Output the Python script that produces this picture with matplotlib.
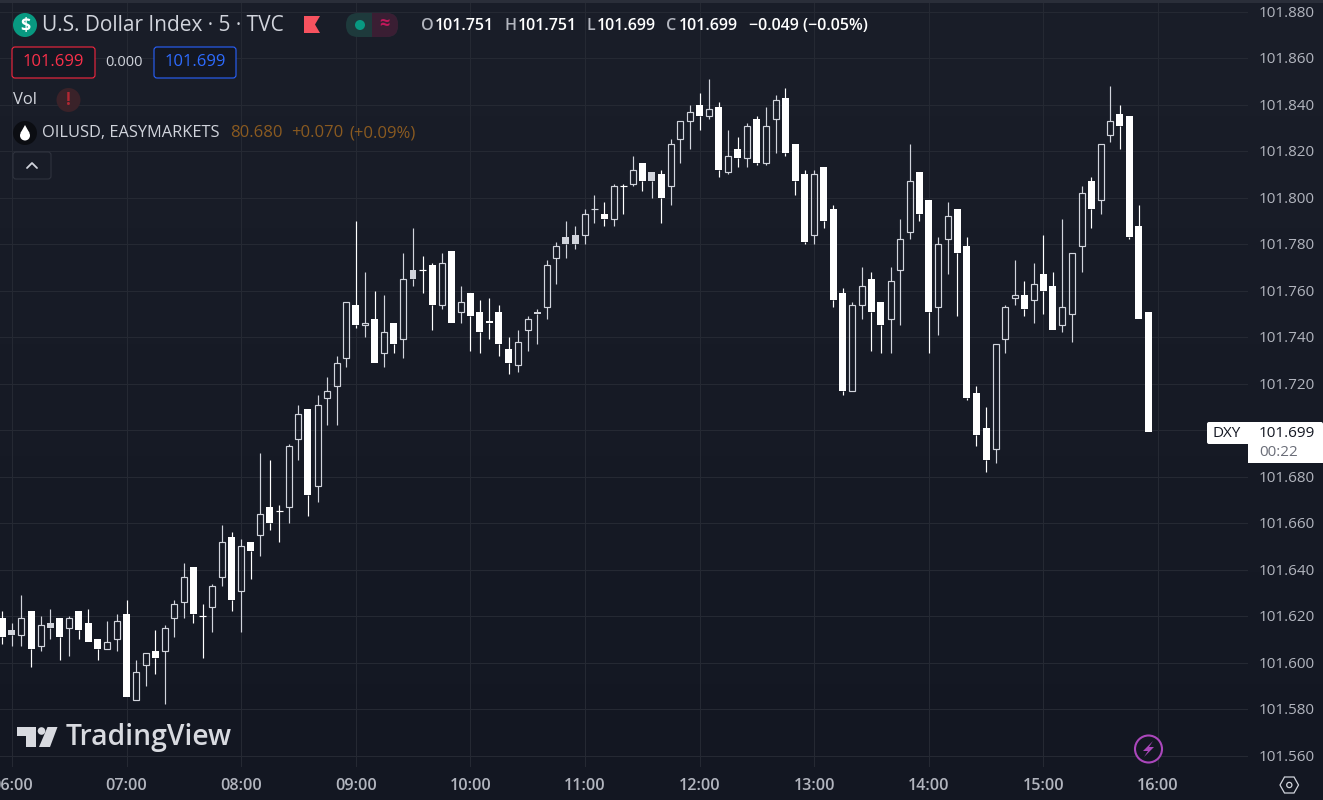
import matplotlib
matplotlib.use("Agg")
import matplotlib.pyplot as plt
import numpy as np
from matplotlib.patches import Circle, FancyBboxPatch, Polygon, Rectangle

# Five-minute candles, first bar 05:55, last bar 15:55
opens = [101.619,101.612,101.612,101.622,101.607,101.615,101.619,101.615,101.622,101.617,101.610,101.606,101.610,
 101.621,101.584,101.599,101.605,101.605,101.619,101.626,101.641,101.620,101.624,101.637,101.654,101.631,101.652,
 101.655,101.667,101.665,101.667,101.696,101.709,101.676,101.714,101.719,101.731,101.754,101.745,101.748,101.733,101.746,101.739,
 101.769,101.769,101.771,101.754,101.777,101.751,101.759,101.751,101.747,101.751,101.735,101.728,101.743,101.750,101.753,101.774,
 101.783,101.780,101.784,101.795,101.793,101.791,101.805,101.806,101.815,101.811,101.810,101.805,101.825,101.833,
 101.840,101.835,101.839,101.811,101.821,101.817,101.834,101.815,101.834,101.843,101.823,101.810,101.784,101.813,101.795,
 101.759,101.717,101.754,101.765,101.755,101.748,101.769,101.785,101.811,101.799,101.753,101.782,101.795,101.779,
 101.716,101.701,101.692,101.739,101.757,101.758,101.756,101.767,101.762,101.745,101.750,101.779,101.807,101.799,101.827,101.836,101.835,101.788,101.751]
highs = [101.622,101.617,101.629,101.622,101.620,101.623,101.619,101.620,101.622,101.623,101.610,101.618,101.621,
 101.627,101.601,101.604,101.614,101.616,101.627,101.643,101.641,101.625,101.634,101.659,101.656,101.653,101.652,
 101.690,101.687,101.668,101.694,101.711,101.709,101.715,101.723,101.732,101.755,101.790,101.768,101.760,101.758,101.746,101.776,
 101.787,101.775,101.772,101.776,101.777,101.762,101.759,101.756,101.757,101.754,101.740,101.743,101.749,101.752,101.773,101.781,
 101.790,101.788,101.795,101.801,101.798,101.806,101.806,101.818,101.815,101.811,101.812,101.825,101.833,101.840,
 101.845,101.851,101.841,101.829,101.826,101.832,101.835,101.839,101.844,101.847,101.823,101.812,101.812,101.813,101.797,
 101.761,101.755,101.770,101.768,101.755,101.770,101.791,101.823,101.811,101.799,101.783,101.798,101.795,101.783,
 101.719,101.710,101.737,101.754,101.773,101.764,101.772,101.784,101.768,101.791,101.776,101.805,101.809,101.823,101.848,101.840,101.835,101.797,101.751]
lows = [101.608,101.607,101.607,101.598,101.605,101.610,101.601,101.603,101.610,101.609,101.601,101.606,101.605,
 101.585,101.584,101.590,101.595,101.582,101.611,101.619,101.617,101.602,101.613,101.633,101.622,101.613,101.636,
 101.646,101.657,101.652,101.660,101.687,101.663,101.669,101.702,101.702,101.727,101.744,101.740,101.729,101.727,101.733,101.731,
 101.762,101.759,101.743,101.752,101.746,101.746,101.734,101.733,101.739,101.732,101.724,101.725,101.734,101.737,101.748,101.763,
 101.774,101.778,101.780,101.789,101.788,101.788,101.793,101.805,101.803,101.800,101.789,101.797,101.815,101.821,
 101.829,101.834,101.809,101.810,101.813,101.813,101.814,101.814,101.819,101.818,101.801,101.780,101.780,101.787,101.753,
 101.715,101.717,101.748,101.734,101.733,101.733,101.745,101.782,101.790,101.733,101.741,101.767,101.749,101.713,
 101.693,101.682,101.686,101.733,101.754,101.749,101.746,101.750,101.743,101.742,101.738,101.768,101.787,101.793,101.824,101.821,101.782,101.748,101.699]
closes = [101.611,101.614,101.619,101.606,101.616,101.617,101.611,101.619,101.614,101.609,101.606,101.609,101.618,
 101.585,101.596,101.604,101.602,101.615,101.625,101.637,101.621,101.620,101.633,101.652,101.627,101.650,101.648,
 101.664,101.660,101.665,101.693,101.707,101.672,101.711,101.717,101.729,101.755,101.745,101.746,101.729,101.742,101.737,101.765,
 101.765,101.769,101.754,101.772,101.746,101.755,101.749,101.742,101.746,101.737,101.729,101.738,101.748,101.751,101.771,101.779,
 101.780,101.784,101.793,101.795,101.791,101.805,101.805,101.812,101.807,101.807,101.800,101.823,101.833,101.837,
 101.835,101.838,101.812,101.818,101.817,101.831,101.815,101.831,101.842,101.819,101.807,101.781,101.810,101.790,101.756,
 101.717,101.754,101.762,101.751,101.745,101.764,101.782,101.807,101.793,101.751,101.780,101.792,101.776,101.714,
 101.698,101.687,101.737,101.753,101.758,101.752,101.763,101.760,101.743,101.753,101.776,101.802,101.795,101.823,101.833,101.831,101.783,101.748,101.699]
grey_filled = [1, 5, 43, 56, 59, 60, 68]
grey_doji = [62]

hour_positions = [1, 13, 25, 37, 49, 61, 73, 85, 97, 109, 121]
hour_labels = ["06:00","07:00","08:00","09:00","10:00","11:00","12:00","13:00","14:00","15:00","16:00"]
price_ticks = [101.56,101.58,101.60,101.62,101.64,101.66,101.68,101.70,101.72,101.74,101.76,101.78,101.80,101.82,101.84,101.86,101.88]
hidden_price_tick = 101.70  # sits under the last-price tag in the platform

W, H = 1323, 800
BG_TOP = np.array([0x1A, 0x1E, 0x29]) / 255
BG_BOT = np.array([0x13, 0x17, 0x22]) / 255
BG = "#161A25"; GRID = "#252933"; SOFT = "#D1D4DC"; TICK = "#B2B5BE"
plt.rcParams["font.family"] = ["Open Sans", "DejaVu Sans"]
fig = plt.figure(figsize=(W/100, H/100), dpi=100, facecolor=BG)

bgax = fig.add_axes([0, 0, 1, 1])
bgax.axis("off")
shade = np.linspace(0, 1, 256)[:, None, None]
bgax.imshow(BG_TOP + (BG_BOT - BG_TOP) * shade, aspect="auto", extent=(0, 1, 0, 1), zorder=0)

ax = fig.add_axes([0, (H-767)/H, 1248/W, 764/H], facecolor="none")
ax.set_xlim(-0.246, 130.43)
ax.set_ylim(101.55497 + 0.00013, 101.88357 + 0.00013)
for s in ax.spines.values():
    s.set_visible(False)
ax.set_xticks(hour_positions)
ax.set_yticks(price_ticks)
ax.grid(True, color=GRID, lw=0.75)
ax.set_axisbelow(True)
ax.tick_params(length=0, labelleft=False, labelbottom=False)

px = (ax.get_xlim()[1]-ax.get_xlim()[0]) / 1248
for i, (o, h, l, c) in enumerate(zip(opens, highs, lows, closes)):
    up = c > o
    doji = c == o
    col = SOFT if (up or i in grey_filled or i in grey_doji) else "#FFFFFF"
    top, bot = max(o, c), min(o, c)
    ax.vlines(i, top, h, color=col, lw=0.85, zorder=3)
    ax.vlines(i, l, bot, color=col, lw=0.85, zorder=3)
    if doji:
        ax.hlines(o, i-3.5*px, i+3.5*px, color=col, lw=0.85, zorder=4)
    elif i in grey_filled:
        ax.add_patch(Rectangle((i-3.4*px, bot), 6.8*px, top-bot, fc=SOFT, ec="none", zorder=4))
    elif up:
        ax.add_patch(Rectangle((i-3*px, bot), 6*px, top-bot, fc="none", ec=SOFT, lw=0.85, zorder=4))
    else:
        ax.add_patch(Rectangle((i-3.5*px, bot), 7*px, top-bot, fc="#FFFFFF", ec="none", zorder=4))

# Overlay in pixel coordinates for the platform's captions and icons
ov = fig.add_axes([0, 0, 1, 1], facecolor="none")
ov.set_xlim(0, W); ov.set_ylim(H, 0); ov.axis("off")
ov.add_patch(Rectangle((0, 0), W, 3, fc="#2A2E39", ec="none"))

def T(x, y, s, size=10, color=SOFT, ha="left", **kw):
    return ov.text(x, y + 1.5, s, fontsize=size, color=color, ha=ha, va="center", **kw)

# axis labels, from the same lists as the ticks
for p in price_ticks:
    if p == hidden_price_tick:
        continue
    yp = ax.transData.transform((0, p))[1]
    T(1315, H-yp, f"{p:.3f}", 11, TICK, ha="right")
for p, lab in zip(hour_positions, hour_labels):
    xp = ax.transData.transform((p, 0))[0]
    T(xp, 784, lab, 11.6, TICK, ha="center", fontweight="semibold")

# title row
ov.add_patch(Circle((25, 25), 12, fc="#089981", ec="none"))
T(25, 24, "$", 13, "#FFFFFF", ha="center", fontweight="bold")
T(42, 24, "U.S. Dollar Index · 5 · TVC", 15, SOFT)
ov.add_patch(Polygon([(304,16),(320,16),(315,24.5),(320,33),(304,33)], fc="#F7525F", ec="none"))
ov.add_patch(FancyBboxPatch((346,13), 52, 24, boxstyle="round,pad=0,rounding_size=12", fc="#1E3A3C", ec="none"))
ov.add_patch(FancyBboxPatch((372,13), 26, 24, boxstyle="round,pad=0,rounding_size=11", fc="#3A1E33", ec="none"))
ov.add_patch(Rectangle((372,13), 10, 24, fc="#3A1E33", ec="none"))
ov.add_patch(Circle((360, 25), 5, fc="#089981", ec="none"))
T(384, 23, "≈", 13, "#C2185B", ha="center", fontweight="bold")
T(421, 25, "O", 11.5, TICK, fontweight="semibold"); T(435, 25, "101.751", 11.5, "#FFFFFF", fontweight="semibold")
T(504, 25, "H", 11.5, TICK, fontweight="semibold"); T(518, 25, "101.751", 11.5, "#FFFFFF", fontweight="semibold")
T(587, 25, "L", 11.5, TICK, fontweight="semibold"); T(597, 25, "101.699", 11.5, "#FFFFFF", fontweight="semibold")
T(666, 25, "C", 11.5, TICK, fontweight="semibold"); T(679, 25, "101.699", 11.5, "#FFFFFF", fontweight="semibold")
T(749, 25, "−0.049 (−0.05%)", 11.5, "#FFFFFF", fontweight="semibold")

# bid / ask row
ov.add_patch(FancyBboxPatch((12,47), 83, 31, boxstyle="round,pad=0,rounding_size=3", fc="#131722", ec="#F7263F", lw=0.8))
T(53.5, 60.5, "101.699", 12, "#F9304A", ha="center")
T(124, 61, "0.000", 10.5, SOFT, ha="center")
ov.add_patch(FancyBboxPatch((154,47), 82, 31, boxstyle="round,pad=0,rounding_size=3", fc="#131722", ec="#2962FF", lw=0.8))
T(195, 60.5, "101.699", 12, "#2E6BFF", ha="center")

# indicator rows
T(13, 98.5, "Vol", 12, SOFT)
ov.add_patch(Circle((68.5, 100), 12, fc="#3A2229", ec="none"))
T(68.5, 98.5, "!", 12, "#B22833", ha="center", fontweight="bold")
ov.add_patch(Circle((25, 133), 12, fc="#0B0D12", ec="none"))
ov.add_patch(Circle((25, 135.5), 5, fc="#FFFFFF", ec="none"))
ov.add_patch(Polygon([(25,125),(20.5,133),(29.5,133)], fc="#FFFFFF", ec="none"))
T(42, 131.5, "OILUSD, EASYMARKETS", 11.8, SOFT)
T(230, 131.5, "80.680", 12, "#8A5A20")
T(291, 131.5, "+0.070", 12, "#8A5A20")
T(349, 131.5, "(+0.09%)", 12, "#8A5A20")
ov.add_patch(FancyBboxPatch((13,152), 38, 27, boxstyle="round,pad=0,rounding_size=3", fc="#181C27", ec="#2F333E", lw=0.8))
ov.plot([27,32,37],[168,163,168], color=SOFT, lw=1.3, solid_capstyle="round")

# last price tag
ov.add_patch(FancyBboxPatch((1207,422), 116, 22, boxstyle="round,pad=0,rounding_size=2", fc="#FFFFFF", ec="none"))
ov.add_patch(Rectangle((1248,440), 75, 23, fc="#FFFFFF", ec="none"))
T(1213, 432, "DXY", 11, "#131722")
T(1315, 432, "101.699", 11, "#131722", ha="right")
T(1259, 451.5, "00:22", 11, "#6A6D78")

# watermark
T(66, 736.5, "TradingView", 20.3, "#D8DAE0", fontweight="semibold")
ov.add_patch(Polygon([(17,727),(36,727),(36,747),(26,747),(26,736),(17,736)], fc="#D8DAE0", ec="none"))
ov.add_patch(Circle((41.5,731), 3.8, fc="#D8DAE0", ec="none"))
ov.add_patch(Polygon([(47.5,727),(57.5,727),(50,747),(39,747)], fc="#D8DAE0", ec="none"))

# lightning button and settings hexagon
ov.add_patch(Circle((1148.5, 749), 13.5, fc="#131722", ec="#AB47BC", lw=1.5))
ov.add_patch(Polygon([(1153,741),(1143,751),(1148,751),(1144,757),(1154,747),(1149,747)], fc="#AB47BC", ec="none"))
ov.add_patch(Polygon([(1280,785),(1284.5,777),(1294,777),(1298.5,785),(1294,793),(1284.5,793)], fc="none", ec=SOFT, lw=0.9))
ov.add_patch(Circle((1289.3, 785), 2.6, fc="none", ec=SOFT, lw=0.9))

fig.savefig("out.png", dpi=100, facecolor=BG)
